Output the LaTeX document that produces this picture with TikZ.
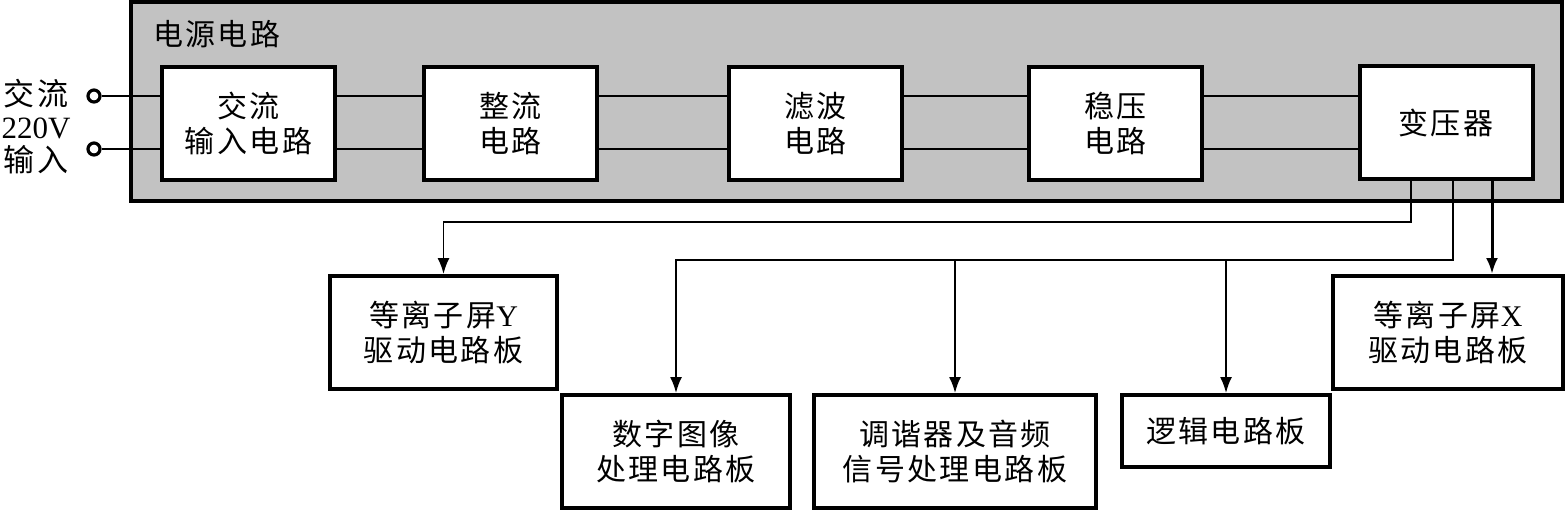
\documentclass[tikz,border=0pt]{standalone}
\usepackage{fontspec}
\setmainfont{Liberation Serif}
\newfontfamily\cjk[LetterSpace=8]{Noto Sans CJK SC}
\usetikzlibrary{arrows.meta}

\begin{document}
\begin{tikzpicture}[x=0.5pt, y=-0.5pt, >={Latex[length=8pt,width=6pt]},
    blk/.style={draw, line width=2pt, fill=white, align=center, inner sep=0pt,
      font=\cjk\fontsize{15}{17.5}\selectfont},
    wire/.style={line width=0.9pt},
    term/.style={draw, circle, line width=1.6pt, fill=white, minimum size=6pt, inner sep=0pt}]

    \useasboundingbox (0,0) rectangle (1566,511);

    % --- 电源电路（灰色外框）---
    \node[draw, line width=2pt, fill=black!24, minimum width=715.5pt, minimum height=99.5pt,
      inner sep=0pt] (psu) at (846.5,101.5) {};
    \node[anchor=west, font=\cjk\fontsize{15}{17.5}\selectfont] (psutitle) at (146,34) {电源电路};

    % --- 电源电路内部的方框 ---
    \node[blk, minimum width=86.5pt, minimum height=56.5pt] (acin) at (248.5,123.5) {交流\\输入电路};
    \node[blk, minimum width=86.5pt, minimum height=56.5pt] (rect) at (510.5,123.5) {整流\\电路};
    \node[blk, minimum width=86.5pt, minimum height=56.5pt] (filt) at (815.5,123.5) {滤波\\电路};
    \node[blk, minimum width=86.5pt, minimum height=56.5pt] (reg) at (1115.5,123.5) {稳压\\电路};
    \node[blk, minimum width=86.5pt, minimum height=56.5pt] (trans) at (1446,122.5) {变压器};

    % --- 输入端子 ---
    \node[align=center, font=\fontsize{15.5}{16.5}\selectfont] (mains) at (36,127)
      {{\cjk 交流}\\220V\\{\cjk 输入}};
    \node[term] (tA) at (94,96) {};
    \node[term] (tB) at (94,149) {};

    \draw[wire] (tA) -- (tA -| acin.west);
    \draw[wire] (tB) -- (tB -| acin.west);
    \foreach \a/\b in {acin/rect, rect/filt, filt/reg, reg/trans} {
      \draw[wire] (tA -| \a.east) -- (tA -| \b.west);
      \draw[wire] (tB -| \a.east) -- (tB -| \b.west);
    }

    % --- 各电路板 ---
    \node[blk, minimum width=113.5pt, minimum height=56.5pt] (scanY) at (443.5,332.5) {等离子屏{\rmfamily Y}\\驱动电路板};
    \node[blk, minimum width=115pt, minimum height=56.5pt] (scanX) at (1448,332.5) {等离子屏{\rmfamily X}\\驱动电路板};
    \node[blk, minimum width=114pt, minimum height=56.5pt] (video) at (676,451.5) {数字图像\\处理电路板};
    \node[blk, minimum width=141pt, minimum height=56.5pt] (tuner) at (955,451.5) {调谐器及音频\\信号处理电路板};
    \node[blk, minimum width=104pt, minimum height=36pt] (logic) at (1226,431) {逻辑电路板};

    % --- 变压器输出 ---
    \coordinate (outY) at (1411,222);
    \coordinate (outD) at (1453,260);
    \coordinate (outX) at (1492,0);

    \draw[wire, ->] (trans.south -| outY) -- (outY) -| (scanY.north);
    \draw[wire, ->] (trans.south -| outD) -- (outD) -| (video.north);
    \draw[wire, ->] (tuner.north |- outD) -- (tuner.north);
    \draw[wire, ->] (logic.north |- outD) -- (logic.north);
    \draw[line width=1.5pt, ->] (trans.south -| outX) -- (scanX.north -| outX);

\end{tikzpicture}
\end{document}
